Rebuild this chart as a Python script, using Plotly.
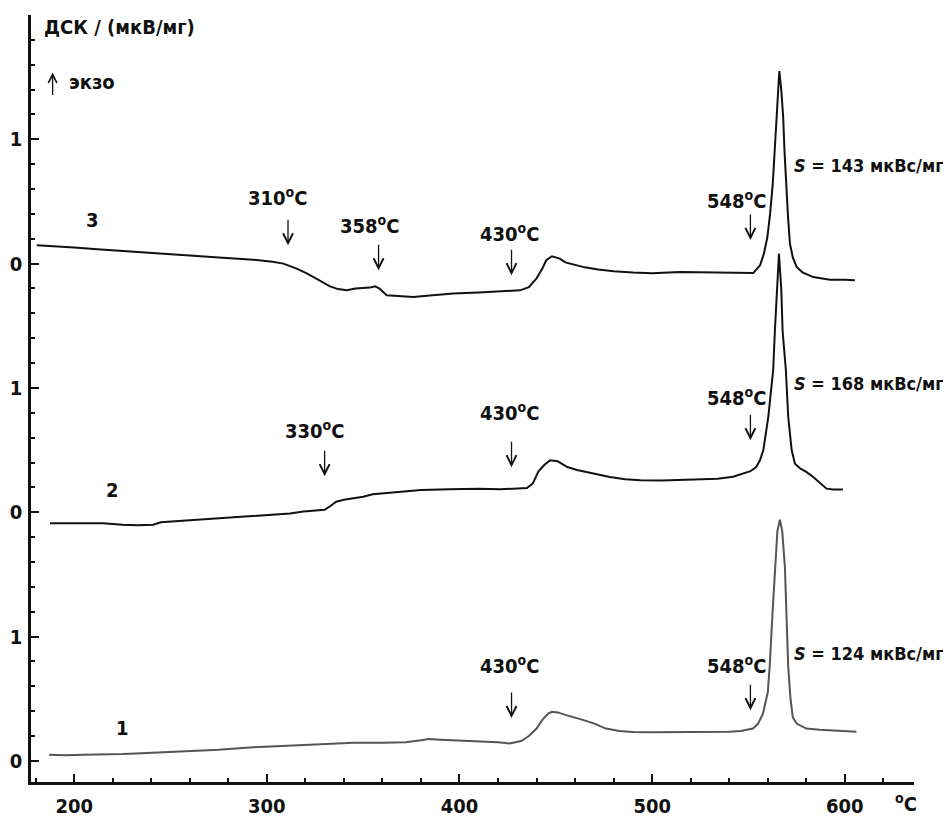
import numpy as np
import plotly.graph_objects as go

# ---------------- data ----------------
# Curve 1 (bottom), signal relative to its own zero line
T1 = [187, 195, 205, 215, 225, 232, 245, 260, 275, 293, 310, 330, 345, 360, 372, 380, 384,
      390, 400, 410, 420, 426, 432, 436, 440, 443, 446, 448, 451, 455, 460, 464, 470, 476,
      483, 490, 500, 515, 530, 540, 546, 550, 552.3, 555, 557.5, 560, 561, 562.5, 563.7,
      565, 566.3, 567.5, 568.9, 569.8, 570.6, 571.8, 573, 575, 580, 587, 594, 600, 606]
D1 = [0.05, 0.045, 0.05, 0.05, 0.055, 0.06, 0.07, 0.08, 0.09, 0.11, 0.12, 0.135, 0.145, 0.145,
      0.15, 0.165, 0.175, 0.17, 0.165, 0.155, 0.15, 0.14, 0.16, 0.2, 0.26, 0.33, 0.38, 0.395,
      0.39, 0.37, 0.35, 0.33, 0.3, 0.26, 0.24, 0.232, 0.23, 0.23, 0.232, 0.235, 0.24, 0.25,
      0.26, 0.3, 0.38, 0.55, 0.76, 1.2, 1.56, 1.85, 1.94, 1.85, 1.56, 1.1, 0.76, 0.5, 0.35,
      0.3, 0.26, 0.25, 0.245, 0.24, 0.235]

# Curve 2 (middle)
T2 = [187.5, 200, 215, 225, 233, 241, 245, 260, 276, 290, 302, 312, 319, 326, 330, 333, 336,
      340, 345, 350, 355, 365, 380, 395, 410, 421, 430, 435, 438, 441, 444, 447, 451, 456,
      461, 466, 472, 478, 486, 494, 505, 520, 534, 542, 547, 551, 554, 556, 557.7, 559,
      560.3, 561.5, 562.8, 563.7, 564.7, 565.8, 567, 567.7, 569.4, 570.6, 572.4, 574.1,
      577, 580, 583.6, 587, 590.5, 594, 599]
D2 = [-0.088, -0.09, -0.088, -0.1, -0.105, -0.1, -0.08, -0.065, -0.048, -0.035, -0.022, -0.01,
      0.006, 0.012, 0.02, 0.05, 0.085, 0.1, 0.113, 0.125, 0.145, 0.16, 0.178, 0.185, 0.19,
      0.185, 0.19, 0.195, 0.23, 0.33, 0.38, 0.418, 0.41, 0.364, 0.34, 0.324, 0.3, 0.284,
      0.265, 0.257, 0.255, 0.26, 0.27, 0.285, 0.31, 0.33, 0.364, 0.42, 0.5, 0.62, 0.77,
      0.95, 1.14, 1.46, 1.8, 2.08, 1.8, 1.46, 1.14, 0.77, 0.5, 0.39, 0.35, 0.324, 0.284,
      0.24, 0.19, 0.183, 0.183]

# Curve 3 (top)
T3 = [180.6, 190, 200, 212, 224, 240, 258, 275, 293, 303, 308.6, 312, 315.5, 321, 327.6, 332.8,
      337, 341.5, 346, 353.5, 356.2, 358.5, 362.2, 368, 376, 386, 396.8, 410, 420, 431.4,
      436, 440, 443, 445, 448, 452, 455, 460, 465, 472, 480, 490, 500, 514.4, 530, 545,
      552.5, 556, 558, 559.8, 561.2, 562.6, 563.6, 564.6, 565.3, 566.0, 567, 568, 568.7,
      569.5, 570.5, 571.5, 573, 575, 578, 583.6, 592.3, 600, 605.2]
D3 = [0.147, 0.14, 0.13, 0.115, 0.101, 0.085, 0.067, 0.05, 0.032, 0.015, 0.0, -0.02, -0.04,
      -0.08, -0.134, -0.183, -0.205, -0.215, -0.2, -0.193, -0.183, -0.2, -0.255, -0.262,
      -0.268, -0.255, -0.241, -0.232, -0.225, -0.215, -0.19, -0.118, -0.04, 0.027, 0.059,
      0.04, 0.01, -0.01, -0.03, -0.048, -0.062, -0.072, -0.078, -0.067, -0.07, -0.073,
      -0.075, -0.014, 0.08, 0.214, 0.4, 0.643, 0.9, 1.18, 1.4, 1.549, 1.4, 1.18, 0.9, 0.643,
      0.38, 0.161, 0.05, -0.027, -0.07, -0.108, -0.129, -0.13, -0.134]

CURVE_NAMES = ["1", "2", "3"]
OFFSETS = [0, 2, 4]

X_TICK_VALS = [200, 300, 400, 500, 600]
X_TICK_TEXT = ["200", "300", "400", "500", "600"]
Y_TICK_VALS = [0, 1, 2, 3, 4, 5, 6]
Y_TICK_TEXT = ["0", "1", "0", "1", "0", "1", ""]

# event labels: text, arrow temperature, arrow tip (absolute y)
EVENT_TEXT = ["310", "358", "430", "548", "330", "430", "548", "430", "548"]
EVENT_ARROW_T = [311, 358, 427, 551, 330, 427, 551, 427, 551]
EVENT_ARROW_TIP = [4.147, 3.946, 3.906, 4.19, 2.29, 2.362, 2.58, 0.344, 0.408]
EVENT_LABEL_XY = [(305.3, 4.532), (353.1, 4.307), (425.8, 4.243), (543.9, 4.508),
                  (325.0, 2.66), (425.8, 2.805), (543.9, 2.925),
                  (425.8, 0.77), (543.9, 0.77)]

AREA_TEXT = ["143", "168", "124"]
AREA_XY = [(572.4, 4.79), (572.4, 3.037), (572.8, 0.866)]
CURVE_LABEL_XY = [(224.9, 0.263), (219.7, 2.177), (209.3, 4.347)]

# ---------------- figure ----------------
FONT = "DejaVu Sans Condensed, Liberation Sans Narrow, Arial Narrow, Liberation Sans, sans-serif"
FS = 20
INK = "#111111"

fig = go.Figure()
series = [(T1, D1), (T2, D2), (T3, D3)]
colors = ["#555555", INK, INK]
for (t, d), off, c, name in zip(series, OFFSETS, colors, CURVE_NAMES):
    fig.add_trace(go.Scatter(x=t, y=np.array(d) + off, mode="lines",
                             line=dict(color=c, width=2), name=name,
                             showlegend=False, hoverinfo="skip"))

ann = []
tfont = dict(family=FONT, size=FS, color=INK, weight="bold")
sfont = dict(family=FONT, size=18, color=INK, weight="bold")
for txt, at, tip, (lx, ly) in zip(EVENT_TEXT, EVENT_ARROW_T, EVENT_ARROW_TIP, EVENT_LABEL_XY):
    ann.append(dict(x=at, y=tip, ax=0, ay=-27, text="", showarrow=True,
                    arrowhead=5, arrowsize=1.5, arrowwidth=1.3, arrowcolor=INK))
    ann.append(dict(x=lx, y=ly, text=f"{txt}<sup>o</sup>C", showarrow=False,
                    font=tfont, xanchor="center", yanchor="middle"))
for s, (sx, sy) in zip(AREA_TEXT, AREA_XY):
    ann.append(dict(x=sx, y=sy, text=f"<i>S</i> = {s} мкВс/мг", showarrow=False,
                    font=sfont, xanchor="left", yanchor="middle"))
for name, (cx, cy) in zip(CURVE_NAMES, CURVE_LABEL_XY):
    ann.append(dict(x=cx, y=cy, text=name, showarrow=False, font=tfont,
                    xanchor="center", yanchor="middle"))

ann.append(dict(xref="paper", yref="paper", x=0.0125, y=0.984, text="ДСК / (мкВ/мг)",
                showarrow=False, font=tfont, xanchor="left", yanchor="middle"))
# "exo" arrow
ann.append(dict(xref="paper", yref="paper", x=0.0245, y=0.925, ax=0, ay=24, text="",
                showarrow=True, arrowhead=5, arrowsize=1.3, arrowwidth=1.3, arrowcolor=INK))
ann.append(dict(xref="paper", yref="paper", x=0.0405, y=0.9126, text="экзо",
                showarrow=False, font=tfont, xanchor="left", yanchor="middle"))
ann.append(dict(xref="paper", yref="paper", x=0.991, y=-0.027, text="<sup>o</sup>C",
                showarrow=False, font=tfont, xanchor="center", yanchor="middle"))

fig.update_layout(
    width=943, height=810,
    margin=dict(l=23, r=37, t=7, b=36, autoexpand=False),
    paper_bgcolor="white", plot_bgcolor="white",
    annotations=ann,
    font=dict(family=FONT, size=FS, color=INK),
)
fig.update_xaxes(range=[177.6, 635.9], showgrid=False, zeroline=False, automargin=False,
                 showline=True, linewidth=2.5, linecolor=INK,
                 tickmode="array", tickvals=X_TICK_VALS, ticktext=X_TICK_TEXT,
                 ticks="inside", ticklen=8, tickwidth=2, tickcolor=INK,
                 ticklabelstandoff=4,
                 tickfont=dict(family=FONT, size=FS, color=INK, weight="bold"),
                 minor=dict(dtick=20, tick0=0, ticks="inside", ticklen=4,
                            tickwidth=2, tickcolor=INK, showgrid=False))
fig.update_yaxes(range=[-0.17, 6.0], showgrid=False, zeroline=False, automargin=False,
                 showline=True, linewidth=2.5, linecolor=INK,
                 tickmode="array", tickvals=Y_TICK_VALS, ticktext=Y_TICK_TEXT,
                 ticks="inside", ticklen=8, tickwidth=2, tickcolor=INK,
                 ticklabelstandoff=2,
                 tickfont=dict(family=FONT, size=FS, color=INK, weight="bold"),
                 minor=dict(dtick=0.2, tick0=0, ticks="inside", ticklen=4,
                            tickwidth=2, tickcolor=INK, showgrid=False))

fig.write_html("out.html")
